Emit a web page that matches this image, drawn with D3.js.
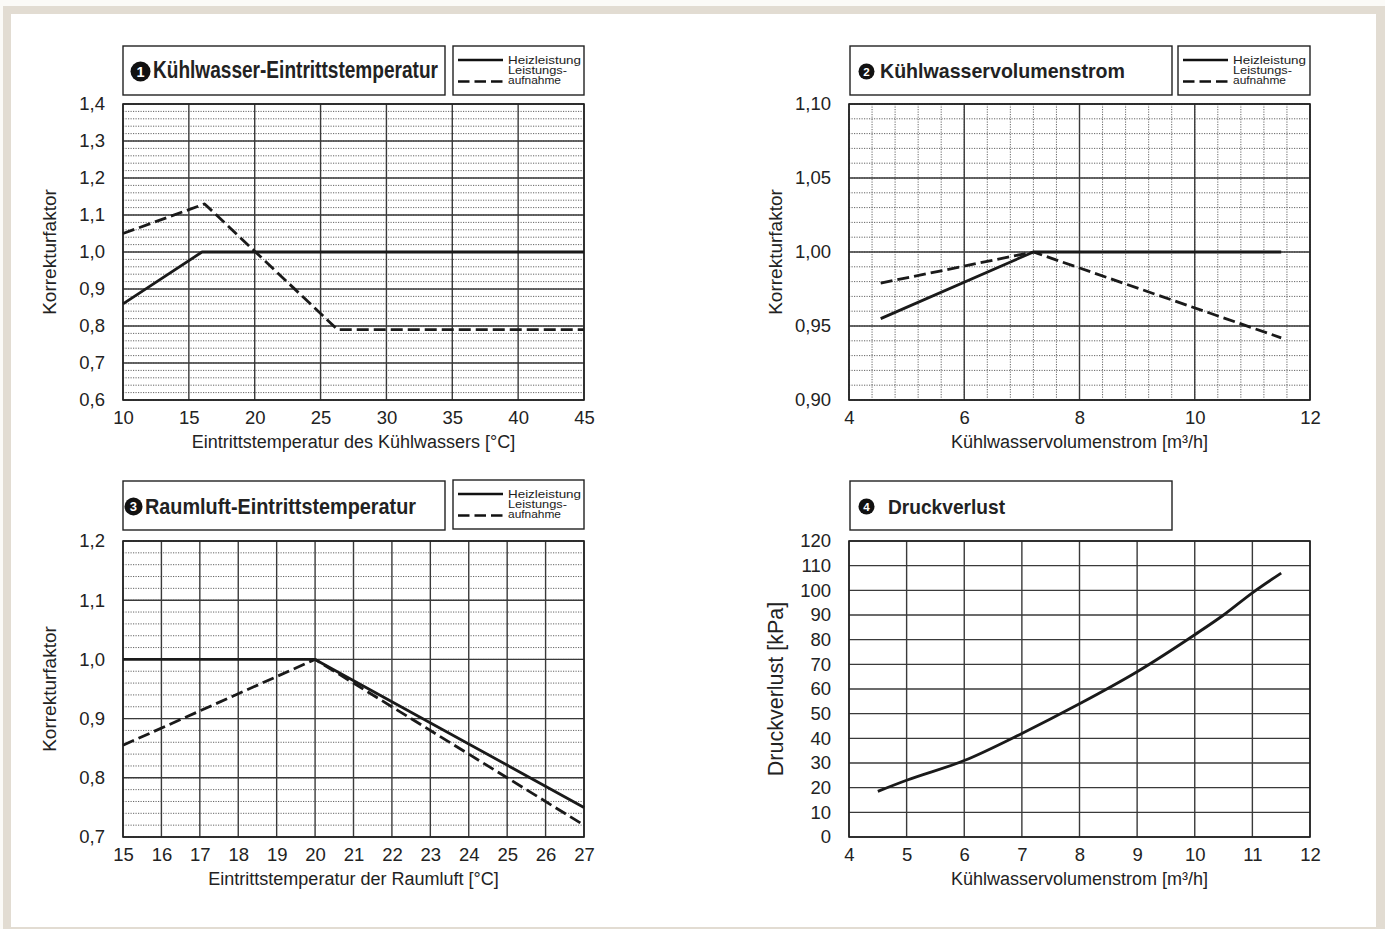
<!DOCTYPE html>
<html>
<head>
<meta charset="utf-8">
<script src="https://cdn.jsdelivr.net/npm/d3@7/dist/d3.min.js"></script>
<style>
  html, body { margin: 0; padding: 0; background: #fbfaf7; }
  svg { display: block; }
  text { font-family: "Liberation Sans", Arial, Helvetica, sans-serif; fill: #222; }
</style>
</head>
<body>
<svg id="chart" width="1385" height="929"></svg>
<script>
// ---------- data ----------
// Panel 1: Kühlwasser-Eintrittstemperatur
const p1TempHeiz = [10, 16, 45];
const p1Heizleistung = [0.86, 1.0, 1.0];
const p1TempLeist = [10, 16.2, 26.3, 45];
const p1Leistungsaufnahme = [1.05, 1.13, 0.79, 0.79];
const p1XTicks = [10, 15, 20, 25, 30, 35, 40, 45];
const p1YTicks = [0.6, 0.7, 0.8, 0.9, 1.0, 1.1, 1.2, 1.3, 1.4];

// Panel 2: Kühlwasservolumenstrom
const p2Strom = [4.55, 7.2, 11.5];
const p2Heizleistung = [0.955, 1.0, 1.0];
const p2Leistungsaufnahme = [0.979, 1.0, 0.942];
const p2XTicks = [4, 6, 8, 10, 12];
const p2YTicks = [0.90, 0.95, 1.00, 1.05, 1.10];

// Panel 3: Raumluft-Eintrittstemperatur
const p3Temp = [15, 20, 27];
const p3Heizleistung = [1.0, 1.0, 0.75];
const p3Leistungsaufnahme = [0.855, 1.0, 0.72];
const p3XTicks = [15, 16, 17, 18, 19, 20, 21, 22, 23, 24, 25, 26, 27];
const p3YTicks = [0.7, 0.8, 0.9, 1.0, 1.1, 1.2];

// Panel 4: Druckverlust
const p4Strom = [4.5, 5, 6, 7, 8, 9, 10, 10.5, 11, 11.5];
const p4Druckverlust = [18.5, 23, 31, 42, 54, 67, 82, 90, 99, 107];
const p4XTicks = [4, 5, 6, 7, 8, 9, 10, 11, 12];
const p4YTicks = [0, 10, 20, 30, 40, 50, 60, 70, 80, 90, 100, 110, 120];

const legendLabels = ["Heizleistung", "Leistungs-", "aufnahme"];

// ---------- page frame ----------
const svg = d3.select("#chart");
svg.append("rect").attr("x", 3).attr("y", 6).attr("width", 1382).attr("height", 923).attr("fill", "#e2dcd2");
svg.append("rect").attr("x", 11).attr("y", 14).attr("width", 1365).attr("height", 913).attr("fill", "#ffffff");

const comma = (digits) => (v) => d3.format("." + digits + "f")(v).replace(".", ",");
const INK = "#222";
const GRID = "#3a3a3a";

function range(a, b, step) {
  const out = [];
  for (let v = a; v <= b + step * 1e-6; v += step) out.push(+v.toFixed(6));
  return out;
}

function panel(cfg) {
  const g = svg.append("g");
  const x = d3.scaleLinear().domain(cfg.xDomain).range([cfg.left, cfg.right]);
  const y = d3.scaleLinear().domain(cfg.yDomain).range([cfg.bottom, cfg.top]);

  // minor grid (dotted)
  if (cfg.yMinor) {
    g.append("g").selectAll("line").data(range(cfg.yDomain[0], cfg.yDomain[1], cfg.yMinor))
      .join("line")
      .attr("x1", cfg.left).attr("x2", cfg.right)
      .attr("y1", d => y(d)).attr("y2", d => y(d))
      .attr("stroke", "#555").attr("stroke-width", 0.9).attr("stroke-dasharray", "1.2,1.3");
  }
  if (cfg.xMinor) {
    g.append("g").selectAll("line").data(range(cfg.xDomain[0], cfg.xDomain[1], cfg.xMinor))
      .join("line")
      .attr("y1", cfg.top).attr("y2", cfg.bottom)
      .attr("x1", d => x(d)).attr("x2", d => x(d))
      .attr("stroke", "#555").attr("stroke-width", 0.9).attr("stroke-dasharray", "1.2,1.3");
  }
  // major grid (solid)
  g.append("g").selectAll("line").data(cfg.yTicks)
    .join("line")
    .attr("x1", cfg.left).attr("x2", cfg.right)
    .attr("y1", d => y(d)).attr("y2", d => y(d))
    .attr("stroke", GRID).attr("stroke-width", 1.4);
  g.append("g").selectAll("line").data(cfg.xGrid)
    .join("line")
    .attr("y1", cfg.top).attr("y2", cfg.bottom)
    .attr("x1", d => x(d)).attr("x2", d => x(d))
    .attr("stroke", GRID).attr("stroke-width", 1.4);
  // plot frame
  g.append("rect")
    .attr("x", cfg.left).attr("y", cfg.top)
    .attr("width", cfg.right - cfg.left).attr("height", cfg.bottom - cfg.top)
    .attr("fill", "none").attr("stroke", INK).attr("stroke-width", 1.6);

  // axes (labels only)
  const ax = g.append("g").attr("transform", `translate(0,${cfg.bottom})`)
    .call(d3.axisBottom(x).tickValues(cfg.xTicks).tickSize(0).tickPadding(11).tickFormat(d3.format("d")));
  const ay = g.append("g").attr("transform", `translate(${cfg.left},0)`)
    .call(d3.axisLeft(y).tickValues(cfg.yTicks).tickSize(0).tickPadding(18).tickFormat(cfg.yFormat));
  [ax, ay].forEach(a => {
    a.select(".domain").remove();
    a.selectAll("text").attr("font-size", 18.5).attr("fill", INK)
      .style("font-family", '"Liberation Sans", Arial, sans-serif');
  });

  // axis titles
  g.append("text")
    .attr("x", (cfg.left + cfg.right) / 2).attr("y", cfg.bottom + 48)
    .attr("text-anchor", "middle").attr("font-size", 18)
    .text(cfg.xTitle);
  g.append("text")
    .attr("transform", `translate(${cfg.yTitleX},${(cfg.top + cfg.bottom) / 2}) rotate(-90)`)
    .attr("text-anchor", "middle").attr("font-size", cfg.yTitleSize || 19)
    .text(cfg.yTitle);

  // heading box with numbered badge
  const tb = cfg.titleBox;
  g.append("rect").attr("x", tb.x).attr("y", tb.y).attr("width", tb.w).attr("height", tb.h)
    .attr("fill", "#fff").attr("stroke", INK).attr("stroke-width", 1.4);
  g.append("circle").attr("cx", tb.cx).attr("cy", tb.y + tb.h / 2 + 1).attr("r", tb.r).attr("fill", "#111");
  g.append("text").attr("x", tb.cx).attr("y", tb.y + tb.h / 2 + 1 + tb.r * 0.5)
    .attr("text-anchor", "middle").attr("font-size", tb.r * 1.45).attr("font-weight", "bold")
    .attr("fill", "#fff").style("fill", "#fff").text(cfg.num);
  g.append("text").attr("x", tb.tx).attr("y", tb.baseline)
    .attr("font-size", tb.fs).attr("font-weight", "bold")
    .attr("textLength", tb.tl).attr("lengthAdjust", "spacingAndGlyphs")
    .text(cfg.title);

  // legend box
  if (cfg.legend) {
    const lb = cfg.legend;
    g.append("rect").attr("x", lb.x).attr("y", lb.y).attr("width", lb.w).attr("height", lb.h)
      .attr("fill", "#fff").attr("stroke", INK).attr("stroke-width", 1.4);
    g.append("line").attr("x1", lb.x + 5).attr("x2", lb.x + 50)
      .attr("y1", lb.y + 14).attr("y2", lb.y + 14)
      .attr("stroke", "#111").attr("stroke-width", 2.6);
    g.append("line").attr("x1", lb.x + 5).attr("x2", lb.x + 50)
      .attr("y1", lb.y + 35.5).attr("y2", lb.y + 35.5)
      .attr("stroke", "#111").attr("stroke-width", 2.6).attr("stroke-dasharray", "11.5,5");
    const offs = [18, 28, 38];
    const lens = [73, 59, 53];
    legendLabels.forEach((t, i) => {
      g.append("text").attr("x", lb.x + 55).attr("y", lb.y + offs[i])
        .attr("font-size", 11.5)
        .attr("textLength", lens[i]).attr("lengthAdjust", "spacingAndGlyphs")
        .text(t);
    });
  }

  // curves
  const line = d3.line().x(d => x(d[0])).y(d => y(d[1])).curve(cfg.curve || d3.curveLinear);
  cfg.series.forEach(s => {
    g.append("path").datum(d3.zip(s.x, s.y))
      .attr("d", line)
      .attr("fill", "none").attr("stroke", "#1a1a1a").attr("stroke-width", 2.8)
      .attr("stroke-linejoin", "round")
      .attr("stroke-dasharray", s.dash || null);
  });
}

panel({
  num: "1", title: "Kühlwasser-Eintrittstemperatur",
  left: 123, right: 584, top: 104, bottom: 400,
  xDomain: [10, 45], yDomain: [0.6, 1.4],
  xTicks: p1XTicks, xGrid: p1XTicks, yTicks: p1YTicks, yMinor: 0.02,
  yFormat: comma(1),
  xTitle: "Eintrittstemperatur des Kühlwassers [°C]", yTitle: "Korrekturfaktor", yTitleX: 56,
  titleBox: { x: 123, y: 46, w: 322, h: 49, cx: 140.5, r: 10, tx: 153, baseline: 77.5, fs: 23, tl: 285 },
  legend: { x: 453, y: 46, w: 131, h: 49 },
  series: [
    { x: p1TempHeiz, y: p1Heizleistung },
    { x: p1TempLeist, y: p1Leistungsaufnahme, dash: "12,5" }
  ]
});

panel({
  num: "2", title: "Kühlwasservolumenstrom",
  left: 849, right: 1310, top: 104, bottom: 400,
  xDomain: [4, 12], yDomain: [0.9, 1.1],
  xTicks: p2XTicks, xGrid: p2XTicks, yTicks: p2YTicks, yMinor: 0.01, xMinor: 0.4,
  yFormat: comma(2),
  xTitle: "Kühlwasservolumenstrom [m³/h]", yTitle: "Korrekturfaktor", yTitleX: 782,
  titleBox: { x: 850, y: 46, w: 322, h: 49, cx: 866.5, r: 8, tx: 880, baseline: 78, fs: 21, tl: 245 },
  legend: { x: 1178, y: 46, w: 132, h: 49 },
  series: [
    { x: p2Strom, y: p2Heizleistung },
    { x: p2Strom, y: p2Leistungsaufnahme, dash: "12,5" }
  ]
});

panel({
  num: "3", title: "Raumluft-Eintrittstemperatur",
  left: 123, right: 584, top: 541, bottom: 837,
  xDomain: [15, 27], yDomain: [0.7, 1.2],
  xTicks: p3XTicks, xGrid: p3XTicks, yTicks: p3YTicks, yMinor: 0.02,
  yFormat: comma(1),
  xTitle: "Eintrittstemperatur der Raumluft [°C]", yTitle: "Korrekturfaktor", yTitleX: 56,
  titleBox: { x: 123, y: 481, w: 322, h: 49, cx: 133.5, r: 9, tx: 145, baseline: 514, fs: 22, tl: 271 },
  legend: { x: 453, y: 480, w: 131, h: 49 },
  series: [
    { x: p3Temp, y: p3Heizleistung },
    { x: p3Temp, y: p3Leistungsaufnahme, dash: "12,5" }
  ]
});

panel({
  num: "4", title: "Druckverlust",
  left: 849, right: 1310, top: 541, bottom: 837,
  xDomain: [4, 12], yDomain: [0, 120],
  xTicks: p4XTicks, xGrid: p4XTicks, yTicks: p4YTicks,
  yFormat: d3.format("d"),
  xTitle: "Kühlwasservolumenstrom [m³/h]", yTitle: "Druckverlust [kPa]", yTitleX: 783, yTitleSize: 21.5,
  titleBox: { x: 850, y: 481, w: 322, h: 49, cx: 866.5, r: 8, tx: 888, baseline: 514, fs: 21, tl: 117 },
  curve: d3.curveMonotoneX,
  series: [
    { x: p4Strom, y: p4Druckverlust }
  ]
});
</script>
</body>
</html>
